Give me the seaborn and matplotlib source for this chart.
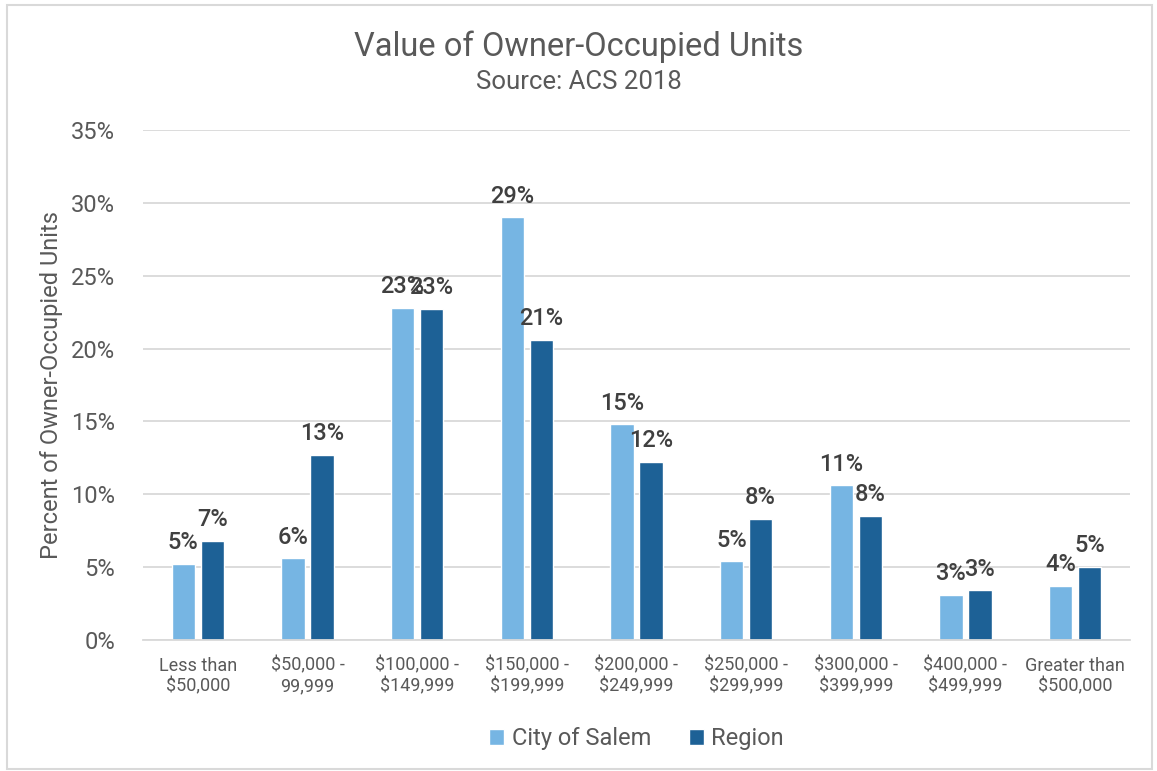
import matplotlib.pyplot as plt
import seaborn as sns
import pandas as pd
import numpy as np

categories = ["Less than\n$50,000", "$50,000 -\n99,999", "$100,000 -\n$149,999",
              "$150,000 -\n$199,999", "$200,000 -\n$249,999", "$250,000 -\n$299,999",
              "$300,000 -\n$399,999", "$400,000 -\n$499,999", "Greater than\n$500,000"]
salem = [5.2, 5.6, 22.8, 29.0, 14.8, 5.4, 10.6, 3.1, 3.7]
region = [6.8, 12.7, 22.7, 20.6, 12.2, 8.3, 8.5, 3.4, 5.0]
series = ["City of Salem", "Region"]
colors = ["#76B5E3", "#1D6196"]

df = pd.DataFrame({
    "category": categories * 2,
    "series": [series[0]] * len(categories) + [series[1]] * len(categories),
    "value": salem + region,
})

sns.set_style("white")
plt.rcParams['font.family'] = ['Roboto', 'DejaVu Sans']
txt = "#595959"

fig = plt.figure(figsize=(11.57, 7.71), dpi=100)
ax = fig.add_axes([0.1236, 0.170, 0.853, 0.6614])

sns.barplot(data=df, x="category", y="value", hue="series", order=categories,
            hue_order=series, palette=colors, width=0.53, gap=0.2, ax=ax,
            saturation=1, legend=True)

for cont in ax.containers:
    ax.bar_label(cont, labels=[f"{v:.0f}%" for v in cont.datavalues], padding=7,
                 fontsize=17, color="#404040", fontweight="medium")

ax.set_ylim(0, 35)
ax.set_yticks(np.arange(0, 36, 5))
ax.set_yticklabels([f"{t}%" for t in range(0, 36, 5)], fontsize=17, color=txt)
ax.tick_params(axis="x", labelsize=13, labelcolor=txt, length=0, pad=12)
ax.tick_params(axis="y", length=0, pad=20)
ax.yaxis.grid(True, color="#d9d9d9", linewidth=1.3)
ax.set_axisbelow(True)
for s in ["top", "right", "left"]:
    ax.spines[s].set_visible(False)
ax.spines["bottom"].set_color("#d9d9d9")
ax.spines["bottom"].set_linewidth(1.3)
ax.set_xlabel("")
ax.set_ylabel("Percent of Owner-Occupied Units", fontsize=17, color=txt, labelpad=6)

leg = ax.legend(loc="upper center", bbox_to_anchor=(0.5, -0.13), ncol=2, frameon=False,
                fontsize=17, handlelength=0.65, handleheight=0.65, handletextpad=0.3,
                columnspacing=1.6)
for t in leg.get_texts():
    t.set_color(txt)

fig.text(0.5, 0.94, "Value of Owner-Occupied Units", ha="center", va="center",
         fontsize=23.5, color=txt)
fig.text(0.5, 0.893, "Source: ACS 2018", ha="center", va="center", fontsize=18.5, color=txt)

fig.patches.append(plt.Rectangle((0.006, 0.003), 0.99, 0.99, transform=fig.transFigure,
                                 fill=False, edgecolor="#d9d9d9", linewidth=1.5))

fig.savefig("out.png", dpi=100)
